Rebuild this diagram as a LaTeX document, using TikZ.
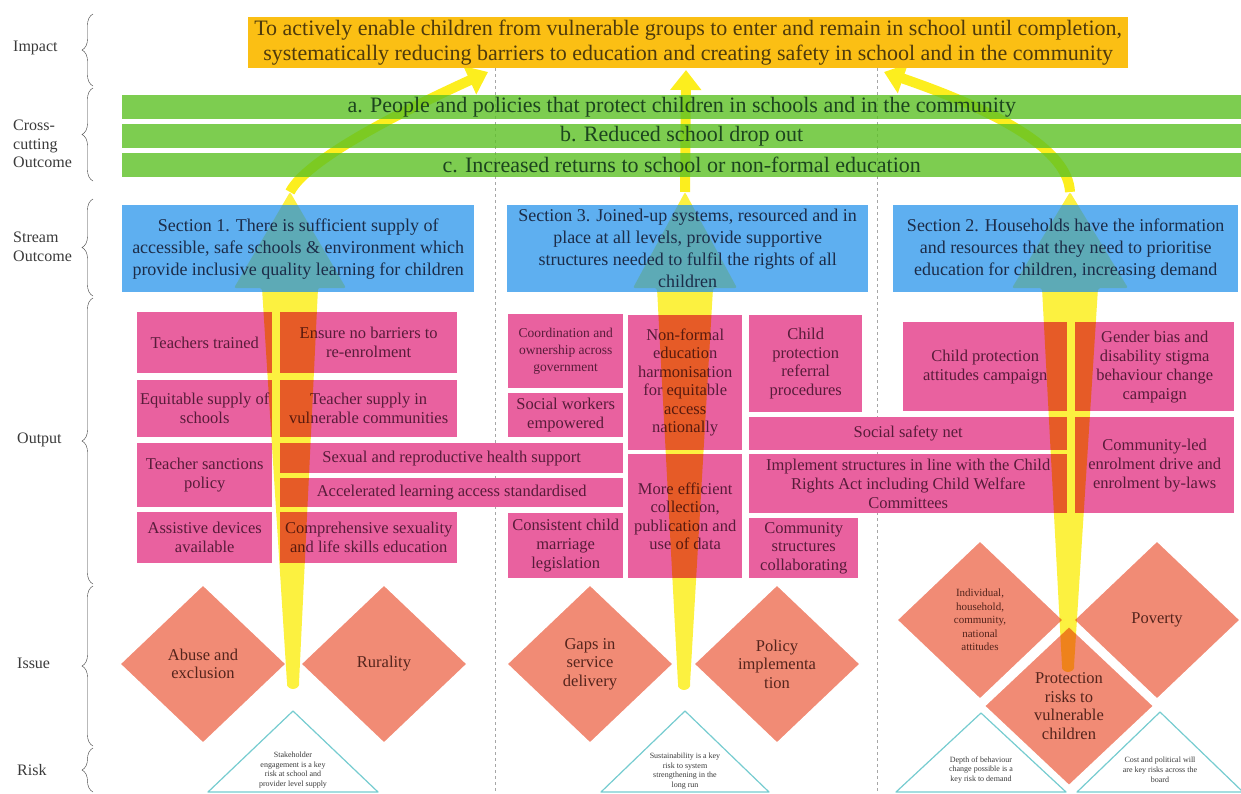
\documentclass[tikz,border=0pt]{standalone}
\usepackage{fontspec}
\setmainfont{Liberation Serif}
\usetikzlibrary{arrows.meta,shapes.geometric,decorations.pathreplacing}

\definecolor{impactgold}{RGB}{251,191,20}
\definecolor{impacttext}{RGB}{78,58,12}
\definecolor{crossgreen}{RGB}{92,193,36}
\definecolor{crosstext}{RGB}{28,68,30}
\definecolor{streamblue}{RGB}{26,141,234}
\definecolor{streamtext}{RGB}{28,44,72}
\definecolor{outpink}{RGB}{233,97,159}
\definecolor{outtext}{RGB}{88,28,58}
\definecolor{issuesalmon}{RGB}{241,139,117}
\definecolor{issuetext}{RGB}{84,36,28}
\definecolor{risktrim}{RGB}{118,204,208}
\definecolor{glow}{RGB}{252,238,30}
\definecolor{sidegray}{RGB}{58,58,58}

\begin{document}
\begin{tikzpicture}[
  x=1pt,
  y=-1pt,
  every node/.style={inner sep=1pt},
  rowlabel/.style={anchor=west,align=left,text=sidegray,font=\fontsize{16}{18.5}\selectfont},
  rowbrace/.style={draw=sidegray,thin,decorate,decoration={brace,amplitude=11pt}},
  impactbox/.style={anchor=north west,fill=impactgold,text=impacttext,align=center,font=\fontsize{22}{25}\selectfont},
  crossbar/.style={anchor=north west,fill=crossgreen,fill opacity=0.8,text opacity=1,text=crosstext,minimum width=1119,minimum height=24,inner sep=0pt,font=\fontsize{22}{24}\selectfont},
  streambox/.style={anchor=north west,fill=streamblue,fill opacity=0.7,text opacity=1,text=streamtext,align=center,minimum height=87,font=\fontsize{18}{22}\selectfont},
  outbox/.style={anchor=north west,fill=outpink,text=outtext,align=center,font=\fontsize{16.5}{19}\selectfont},
  issue/.style={diamond,fill=issuesalmon,draw=white,line width=1.5pt,text=issuetext,align=center,minimum width=167,minimum height=159,inner sep=0pt,font=\fontsize{16.5}{18.5}\selectfont},
  risk/.style={draw=risktrim,line width=1.2pt,fill=white,line join=round},
  risktext/.style={text=sidegray,align=center,font=\fontsize{8}{9.8}\selectfont},
  divider/.style={draw=gray!70,dashed,thin},
  stem/.style={fill=glow,rounded corners=2pt},
  beam/.style={draw=glow,line width=10pt,-{Triangle[width=30pt,length=20pt]}}
]
\useasboundingbox (0,0) rectangle (1241,793);

% Section dividers
\draw[divider] (495,68) -- (495,793);
\draw[divider] (877,68) -- (877,793);

% Risks
\coordinate (risk1top) at (293,711);
\draw[risk] (risk1top) -- ++(-85,81) -- ++(170,0) -- cycle;
\node[risktext] (risk1) at (293,770) {Stakeholder\\engagement is a key\\risk at school and\\provider level supply};
\coordinate (risk3top) at (685,711);
\draw[risk] (risk3top) -- ++(-84,81) -- ++(168,0) -- cycle;
\node[risktext] (risk3) at (685,771) {Sustainability is a key\\risk to system\\strengthening in the\\long run};
\coordinate (risk2atop) at (981,713);
\draw[risk] (risk2atop) -- ++(-85,79) -- ++(170,0) -- cycle;
\node[risktext] (risk2a) at (981,770) {Depth of behaviour\\change possible is a\\key risk to demand};
\coordinate (risk2btop) at (1160,712);
\draw[risk] (risk2btop) -- ++(-83,80) -- ++(166,0) -- cycle;
\node[risktext] (risk2b) at (1160,770) {Cost and political will\\are key risks across the\\board};

% Issues
\node[issue] (abuse) at (203,664) {Abuse and\\exclusion};
\node[issue] (rural) at (384,664) {Rurality};
\node[issue] (gaps) at (590,664) {Gaps in\\service\\delivery};
\node[issue] (policy) at (777,664) {Policy\\implementa\\tion};
\node[issue,font=\fontsize{11}{13.5}\selectfont] (attitudes) at (980,620) {Individual,\\household,\\community,\\national\\attitudes};
\node[issue] (poverty) at (1157,620) {Poverty};
\node[issue,minimum width=170,minimum height=160] (protect) at (1069,706) {Protection\\risks to\\vulnerable\\children};

% Outputs, section 1
\node[outbox,minimum width=135,minimum height=61] (teach) at (137,312) {Teachers trained};
\node[outbox,minimum width=177,minimum height=61] (reenrol) at (280,312) {Ensure no barriers to\\re-enrolment};
\node[outbox,minimum width=135,minimum height=57] (equit) at (137,380) {Equitable supply of\\schools};
\node[outbox,minimum width=177,minimum height=57] (tsupply) at (280,380) {Teacher supply in\\vulnerable communities};
\node[outbox,minimum width=135,minimum height=64] (sanction) at (137,443) {Teacher sanctions\\policy};
\node[outbox,minimum width=343,minimum height=30] (srh) at (280,443) {Sexual and reproductive health support};
\node[outbox,minimum width=343,minimum height=29] (alp) at (280,478) {Accelerated learning access standardised};
\node[outbox,minimum width=135,minimum height=51] (assist) at (137,512) {Assistive devices\\available};
\node[outbox,minimum width=177,minimum height=51] (cse) at (280,512) {Comprehensive sexuality\\and life skills education};

% Outputs, section 3
\node[outbox,minimum width=115,minimum height=74,font=\fontsize{13.5}{17}\selectfont] (coord) at (508,314) {Coordination and\\ownership across\\government};
\node[outbox,minimum width=115,minimum height=44] (social) at (508,393) {Social workers\\empowered};
\node[outbox,minimum width=115,minimum height=65] (marriage) at (508,513) {Consistent child\\marriage\\legislation};
\node[outbox,minimum width=114,minimum height=135,font=\fontsize{16.5}{18.5}\selectfont] (nfe) at (628,315) {Non-formal\\education\\harmonisation\\for equitable\\access\\nationally};
\node[outbox,minimum width=114,minimum height=124,font=\fontsize{16.5}{18.5}\selectfont] (data) at (628,454) {More efficient\\collection,\\publication and\\use of data};
\node[outbox,minimum width=113,minimum height=97,font=\fontsize{16.5}{18.5}\selectfont] (referral) at (749,315) {Child\\protection\\referral\\procedures};
\node[outbox,minimum width=318,minimum height=33] (safetynet) at (749,417) {Social safety net};
\node[outbox,minimum width=318,minimum height=59] (crc) at (749,454) {Implement structures in line with the Child\\Rights Act including Child Welfare\\Committees};
\node[outbox,minimum width=109,minimum height=60,font=\fontsize{16.5}{18.5}\selectfont] (commstruct) at (749,518) {Community\\structures\\collaborating};

% Outputs, section 2
\node[outbox,minimum width=164,minimum height=89] (cpcampaign) at (903,322) {Child protection\\attitudes campaign};
\node[outbox,minimum width=159,minimum height=89] (stigma) at (1075,322) {Gender bias and\\disability stigma\\behaviour change\\campaign};
\node[outbox,minimum width=159,minimum height=96] (enrol) at (1075,417) {Community-led\\enrolment drive and\\enrolment by-laws};

% Upward pathways
\draw[beam] (290,192) .. controls (306,160) and (400,112) .. (488,72);
\draw[beam] (685,192) -- (686,70);
\draw[beam] (1070,192) .. controls (1068,150) and (1000,112) .. (884,72);
\begin{scope}[blend mode=multiply,fill opacity=0.85]
  \fill[stem] (287,683) -- (262,288) -- (234,288) -- (290,192) -- (346,288) -- (318,288)
    -- (299,683) arc[start angle=0,end angle=180,radius=6] -- cycle;
  \fill[stem] (678,684) -- (657,288) -- (633,288) -- (685,192) -- (737,288) -- (713,288)
    -- (690,684) arc[start angle=0,end angle=180,radius=6] -- cycle;
  \fill[stem] (1062,666) -- (1042,288) -- (1012,288) -- (1070,192) -- (1128,288) -- (1098,288)
    -- (1074,666) arc[start angle=0,end angle=180,radius=6] -- cycle;
\end{scope}

% Stream outcomes
\node[streambox,minimum width=352] (sec1) at (122,205) {Section 1. There is sufficient supply of\\accessible, safe schools \& environment which\\provide inclusive quality learning for children};
\node[streambox,minimum width=361] (sec3) at (507,205) {Section 3. Joined-up systems, resourced and in\\place at all levels, provide supportive\\structures needed to fulfil the rights of all\\children};
\node[streambox,minimum width=345] (sec2) at (893,205) {Section 2. Households have the information\\and resources that they need to prioritise\\education for children, increasing demand};

% Cross-cutting outcomes
\node[crossbar] (outa) at (122,95) {a. People and policies that protect children in schools and in the community};
\node[crossbar] (outb) at (122,124) {b. Reduced school drop out};
\node[crossbar] (outc) at (122,153) {c. Increased returns to school or non-formal education};

% Impact
\node[impactbox,minimum width=880,minimum height=51] (impact) at (248,17) {To actively enable children from vulnerable groups to enter and remain in school until completion,\\systematically reducing barriers to education and creating safety in school and in the community};

% Row labels
\node[rowlabel] (lbl-impact) at (12,48) {Impact};
\node[rowlabel] (lbl-cross) at (12,144) {Cross-\\cutting\\Outcome};
\node[rowlabel] (lbl-stream) at (12,247) {Stream\\Outcome};
\node[rowlabel] (lbl-output) at (16,440) {Output};
\node[rowlabel] (lbl-issue) at (16,663) {Issue};
\node[rowlabel] (lbl-risk) at (16,770) {Risk};
\draw[rowbrace] (93,86) -- (93,14);
\draw[rowbrace] (93,181) -- (93,88);
\draw[rowbrace] (93,296) -- (93,199);
\draw[rowbrace] (93,584) -- (93,298);
\draw[rowbrace] (93,746) -- (93,586);
\draw[rowbrace] (93,792) -- (93,748);
\end{tikzpicture}
\end{document}
